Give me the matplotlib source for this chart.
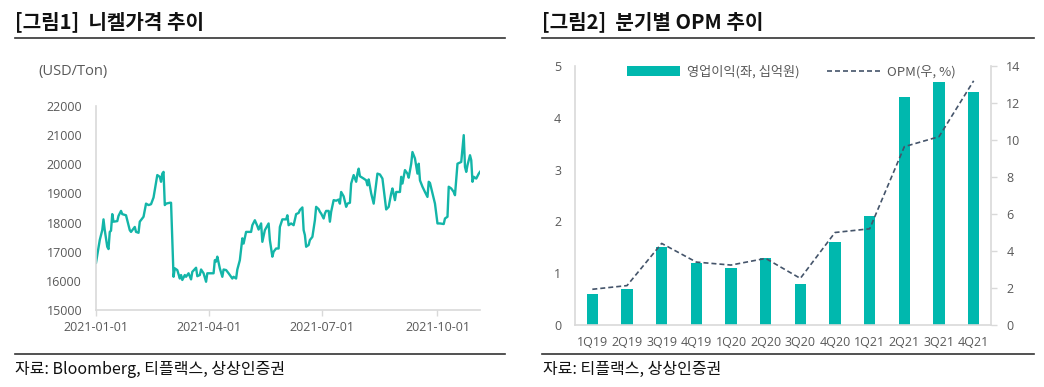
import matplotlib
matplotlib.use("Agg")
import matplotlib.pyplot as plt
from matplotlib.lines import Line2D
from matplotlib.patches import Patch
import pandas as pd

# ---------------- data ----------------
start_date = "2021-01-01"
day_offsets = [0, 3, 5, 6, 7, 9, 10, 11, 12, 13, 14, 17, 18, 20, 21, 24, 27, 28, 31, 32,
               34, 35, 38, 40, 42, 44, 46, 49, 51, 52, 53, 54, 55, 56, 59, 60, 62, 63, 65, 67,
               68, 69, 71, 72, 74, 76, 77, 80, 81, 83, 84, 86, 88, 89, 94, 95, 96, 97, 99, 101,
               102, 104, 106, 109, 110, 112, 113, 115, 117, 118, 120, 124, 125, 127, 129, 130, 132, 133, 135, 138,
               139, 141, 142, 144, 146, 147, 149, 152, 153, 154, 156, 158, 160, 162, 163, 165, 166, 167, 168, 170,
               171, 173, 175, 176, 178, 179, 180, 182, 183, 184, 186, 187, 188, 190, 192, 194, 195, 196, 198, 200,
               201, 203, 204, 206, 208, 209, 210, 211, 214, 216, 217, 218, 220, 222, 223, 225, 227, 229, 232, 234,
               236, 237, 239, 240, 243, 244, 245, 247, 249, 250, 252, 253, 255, 257, 258, 259, 261, 263, 265, 266,
               267, 269, 271, 272, 273, 275, 278, 279, 281, 282, 284, 286, 287, 289, 292, 294, 295, 296, 297, 299,
               300, 301, 302, 304, 306, 307]
nickel_prices = [16620, 17400, 17740, 18110, 17740, 17170, 17090, 17680, 17720, 18290, 18030, 18050, 18230, 18400, 18290, 18250, 17740, 17680, 17850, 17680,
                 17650, 18030, 18200, 18650, 18600, 18630, 18860, 19630, 19570, 19400, 19680, 19740, 18600, 18650, 18680, 18680, 16140, 16430, 16370, 16080,
                 16200, 16030, 16200, 16140, 16260, 16050, 16310, 16450, 16160, 16200, 16390, 16260, 15970, 16260, 16260, 16710, 16660, 16830, 16430, 16140,
                 16390, 16370, 16260, 16080, 16140, 16080, 16390, 16710, 17460, 17280, 17680, 17680, 17910, 18080, 17880, 17760, 17970, 17340, 17740, 17970,
                 17400, 16830, 17000, 17110, 17110, 17850, 18110, 18110, 18250, 17910, 17970, 17910, 18290, 18330, 18430, 18520, 17740, 17570, 17170, 17230,
                 17400, 17510, 18080, 18540, 18460, 18370, 18310, 18140, 18310, 18400, 18400, 18030, 18370, 18770, 18750, 18790, 18650, 19050, 18900, 18540,
                 18650, 18680, 19340, 19630, 19400, 19680, 19850, 19590, 19510, 19450, 19280, 19480, 19000, 18650, 19000, 19680, 19650, 19510, 18450, 18540,
                 19000, 19170, 18770, 19050, 19050, 19570, 19340, 19800, 19680, 19540, 20020, 20420, 20200, 19680, 20020, 19450, 19230, 19050, 18880, 19400,
                 19360, 19000, 18650, 18310, 17970, 17970, 17950, 18140, 18200, 19230, 19170, 19050, 18940, 20020, 20080, 21000, 19910, 19740, 19970, 20310,
                 20140, 19400, 19570, 19510, 19680, 19740]
nickel_ticks = ["2021-01-01", "2021-04-01", "2021-07-01", "2021-10-01"]

quarters = ["1Q19", "2Q19", "3Q19", "4Q19", "1Q20", "2Q20", "3Q20", "4Q20", "1Q21", "2Q21", "3Q21", "4Q21"]
op_profit = [0.6, 0.7, 1.5, 1.2, 1.1, 1.3, 0.8, 1.6, 2.1, 4.4, 4.7, 4.5]
opm = [1.93, 2.13, 4.41, 3.40, 3.24, 3.60, 2.52, 5.00, 5.20, 9.64, 10.18, 13.20]

# ---------------- style ----------------
KFONT = ["Noto Sans CJK KR", "DejaVu Sans"]
NFONT = ["Open Sans", "Noto Sans CJK KR", "DejaVu Sans"]
plt.rcParams["font.family"] = NFONT
GRAY = "#595959"
SPINE = "#D9D9D9"
TEAL_LINE = "#13B5A8"
TEAL_BAR = "#00B8AE"
DASH = "#44546A"

W, H = 1044, 387
fig = plt.figure(figsize=(W / 100, H / 100), dpi=100)


def fx(px):
    return px / W


def fy(py):
    return 1 - py / H


# titles and rules
fig.text(fx(15), fy(22), "[그림1]  니켈가격 추이", family=KFONT, fontsize=14.5, fontweight="bold",
         color="#111111", va="center", ha="left")
fig.text(fx(542), fy(22), "[그림2]  분기별 OPM 추이", family=KFONT, fontsize=14.5, fontweight="bold",
         color="#111111", va="center", ha="left")
for x0, x1 in [(15, 505), (542, 1034)]:
    fig.add_artist(Line2D([fx(x0), fx(x1)], [fy(38), fy(38)], color="#333333", lw=1.2))
    fig.add_artist(Line2D([fx(x0), fx(x1)], [fy(354), fy(354)], color="#333333", lw=1.2))
fig.text(fx(15), fy(369), "자료: Bloomberg, 티플랙스, 상상인증권", family=KFONT, fontsize=11.5,
         color="#111111", va="center", ha="left")
fig.text(fx(543), fy(369), "자료: 티플랙스, 상상인증권", family=KFONT, fontsize=11.5,
         color="#111111", va="center", ha="left")

# ---------------- left chart ----------------
ax1 = fig.add_axes([fx(96), fy(310), fx(480) - fx(96), fy(106) - fy(310)])
dates = pd.Timestamp(start_date) + pd.to_timedelta(day_offsets, unit="D")
ax1.plot(dates, nickel_prices, color=TEAL_LINE, lw=1.7, solid_joinstyle="round")
ax1.set_ylim(15000, 22000)
ax1.set_yticks(range(15000, 22001, 1000))
ax1.set_xlim(pd.Timestamp(start_date), pd.Timestamp(start_date) + pd.Timedelta(days=307))
ax1.set_xticks([pd.Timestamp(t) for t in nickel_ticks])
ax1.set_xticklabels(nickel_ticks)
for s in ["top", "right"]:
    ax1.spines[s].set_visible(False)
for s in ["left", "bottom"]:
    ax1.spines[s].set_color(SPINE)
    ax1.spines[s].set_linewidth(1.2)
ax1.tick_params(axis="y", length=0, pad=10, labelsize=9, labelcolor=GRAY)
ax1.tick_params(axis="x", length=4, width=1, color=SPINE, pad=4, labelsize=9, labelcolor=GRAY)
fig.text(fx(38), fy(72), "(USD/Ton)", fontsize=10.5, color=GRAY, va="center", ha="left")

# ---------------- right chart ----------------
ax2 = fig.add_axes([fx(575), fy(325), fx(991) - fx(575), fy(66) - fy(325)])
x = list(range(len(quarters)))
ax2.bar(x, op_profit, width=0.32, color=TEAL_BAR, zorder=2)
ax2.set_xlim(-0.5, len(quarters) - 0.5)
ax2.set_ylim(0, 5)
ax2.set_yticks(range(0, 6))
ax2.set_xticks(x)
ax2.set_xticklabels(quarters)
ax3 = ax2.twinx()
ax3.plot(x, opm, color=DASH, lw=1.2, linestyle=(0, (3, 1.8)), zorder=3)
ax3.set_ylim(0, 14)
ax3.set_yticks(range(0, 15, 2))
for a in (ax2, ax3):
    a.spines["top"].set_visible(False)
    for s in ["left", "right", "bottom"]:
        a.spines[s].set_color(SPINE)
        a.spines[s].set_linewidth(1.2)
ax2.spines["right"].set_visible(False)
ax3.spines["left"].set_visible(False)
ax3.spines["bottom"].set_visible(False)
ax2.tick_params(axis="y", length=0, pad=10, labelsize=9, labelcolor=GRAY)
ax2.tick_params(axis="x", length=0, pad=8, labelsize=9, labelcolor=GRAY)
ax3.tick_params(axis="y", length=4, width=1, color=SPINE, pad=7, labelsize=9, labelcolor=GRAY)

handles = [Patch(facecolor=TEAL_BAR, edgecolor="none"),
           Line2D([0], [0], color=DASH, lw=1.2, linestyle=(0, (3, 1.8)))]
labels = ["영업이익(좌, 십억원)", "OPM(우, %)"]
leg = ax3.legend(handles, labels, loc="center left", bbox_to_anchor=(0.125, 0.977), ncol=2,
                 frameon=False, borderpad=0, borderaxespad=0, handlelength=4.0,
                 handletextpad=0.53, columnspacing=2.1, prop={"family": KFONT, "size": 9.5})
for t in leg.get_texts():
    t.set_color(GRAY)

fig.savefig("out.png", dpi=100)
